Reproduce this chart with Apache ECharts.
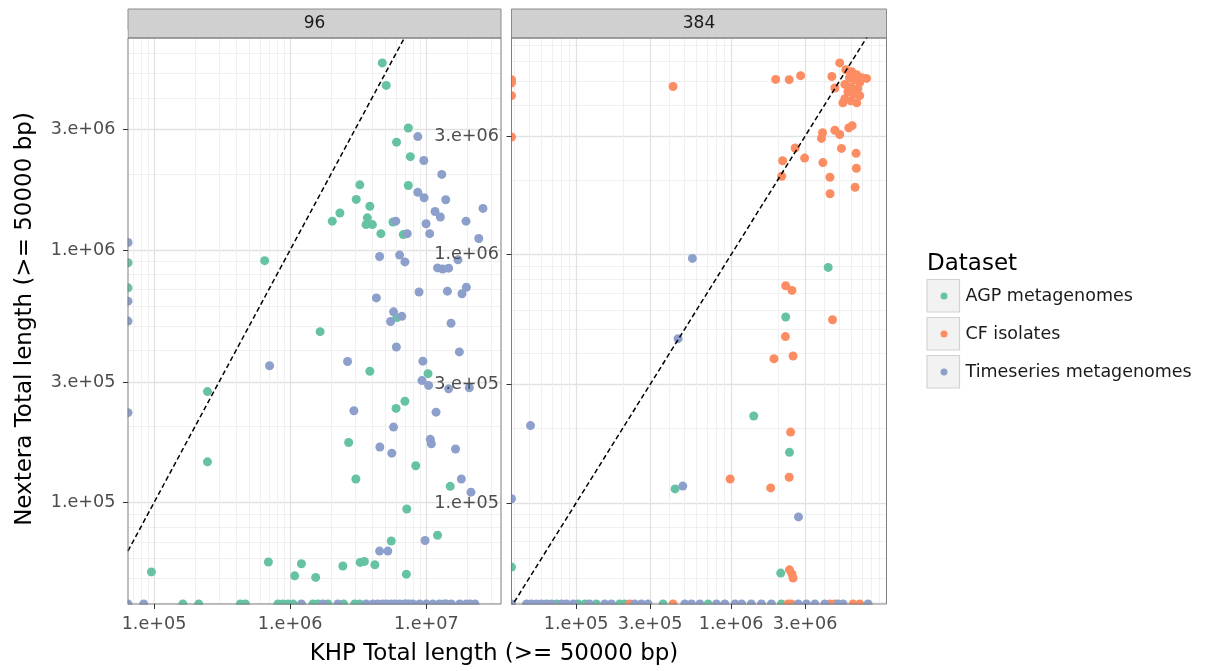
<!DOCTYPE html>
<html>
<head>
<meta charset="utf-8">
<title>KHP vs Nextera total length</title>
<script src="https://cdn.jsdelivr.net/npm/echarts@6.0.0/dist/echarts.min.js"></script>
<style>
  html, body { margin: 0; padding: 0; background: #fff; }
  #chart { width: 1217px; height: 671px; }
</style>
</head>
<body>
<div id="chart"></div>
<script>
// facet labels and legend entries
const facets = ['96', '384']
const datasetNames = ['AGP metagenomes', 'CF isolates', 'Timeseries metagenomes']
const datasetColors = ['#66c2a5', '#fc8d62', '#8da0cb']

// axis limits (log scale) and tick labels
const p96XLim = [64400, 3.54e7]
const p96YLim = [39700, 6.9e6]
const p384XLim = [38300, 1.006e7]
const p384YLim = [39200, 7.46e6]
const p96XTicks = [1e5, 1e6, 1e7]
const p96XLabels = ['1.e+05', '1.e+06', '1.e+07']
const yTicks = [1e5, 3e5, 1e6, 3e6]
const yLabels = ['1.e+05', '3.e+05', '1.e+06', '3.e+06']
const p384XTicks = [1e5, 3e5, 1e6, 3e6]
const p384XLabels = ['1.e+05', '3.e+05', '1.e+06', '3.e+06']

// 0 = no contigs >= 50000 bp (sits on the panel edge, like -Inf on a log scale)
// panel 96
const p96AgpX = [4.75e6, 5.08e6, 7.38e6, 6.05e6, 7.64e6, 3.25e6, 7.38e6, 3.06e6, 3.85e6, 2.32e6,
  2.04e6, 3.69e6, 3.61e6, 4.02e6, 5.69e6, 4.64e6, 6.78e6, 6.5e5, 0, 0,
  6.08e6, 1.66e6, 3.85e6, 1.03e7, 2.47e5, 6.97e6, 6.0e6, 2.69e6, 2.47e5, 8.37e6,
  3.04e6, 1.5e7, 7.19e6, 1.21e7, 5.53e6, 6.92e5, 1.21e6, 2.44e6, 3.27e6, 3.51e6,
  4.19e6, 9.57e4, 1.08e6, 1.54e6, 7.14e6,
  1.63e5, 2.13e5, 4.31e5, 4.69e5, 8.13e5, 8.85e5, 9.64e5, 1.05e6, 1.47e6, 1.6e6,
  1.9e6, 2.47e6, 2.98e6, 3.24e6, 7.13e6, 1.36e7]
const p96AgpY = [5.5e6, 4.48e6, 3.04e6, 2.67e6, 2.34e6, 1.81e6, 1.8e6, 1.585e6, 1.49e6, 1.4e6,
  1.3e6, 1.34e6, 1.26e6, 1.26e6, 1.29e6, 1.16e6, 1.15e6, 9.07e5, 8.9e5, 7.08e5,
  5.4e5, 4.75e5, 3.31e5, 3.24e5, 2.75e5, 2.52e5, 2.36e5, 1.73e5, 1.45e5, 1.4e5,
  1.24e5, 1.16e5, 9.44e4, 7.43e4, 7.05e4, 5.82e4, 5.73e4, 5.61e4, 5.8e4, 5.85e4,
  5.68e4, 5.32e4, 5.13e4, 5.06e4, 5.21e4,
  0, 0, 0, 0, 0, 0, 0, 0, 0, 0,
  0, 0, 0, 0, 0, 0]
const p96TsX = [8.67e6, 9.59e6, 1.3e7, 8.67e6, 9.64e6, 1.39e7, 2.61e7, 1.16e7, 1.27e7, 5.97e6,
  1.96e7, 9.97e6, 1.06e7, 7.25e6, 2.43e7, 0, 4.54e6, 6.37e6, 6.97e6, 1.71e7,
  1.21e7, 1.32e7, 1.46e7, 4.3e6, 8.85e6, 1.43e7, 1.83e7, 1.97e7, 0, 5.75e6,
  6.61e6, 5.47e6, 0, 1.52e7, 6.03e6, 1.75e7, 2.64e6, 9.44e6, 7.06e5, 9.29e6,
  1.04e7, 1.46e7, 2.07e7, 0, 2.94e6, 1.18e7, 5.75e6, 1.07e7, 1.09e7, 4.56e6,
  5.58e6, 1.64e7, 1.81e7, 2.13e7, 9.8e6, 4.54e6, 5.22e6,
  0, 8.4e4, 1.21e6, 1.74e6, 2.24e6, 3.62e6, 4.05e6, 4.4e6, 4.8e6, 5.1e6,
  5.53e6, 5.9e6, 6.37e6, 6.9e6, 7.5e6, 7.97e6, 8.93e6, 1.0e7, 1.12e7, 1.25e7,
  1.4e7, 1.53e7, 1.76e7, 1.97e7, 2.1e7, 2.28e7]
const p96TsY = [2.81e6, 2.26e6, 1.99e6, 1.69e6, 1.61e6, 1.58e6, 1.46e6, 1.42e6, 1.35e6, 1.3e6,
  1.3e6, 1.27e6, 1.16e6, 1.16e6, 1.11e6, 1.07e6, 9.42e5, 9.54e5, 8.97e5, 9.14e5,
  8.49e5, 8.4e5, 8.47e5, 6.46e5, 6.82e5, 6.87e5, 6.71e5, 7.12e5, 6.27e5, 5.69e5,
  5.46e5, 5.21e5, 5.23e5, 5.13e5, 4.13e5, 3.95e5, 3.62e5, 3.63e5, 3.48e5, 3.04e5,
  2.91e5, 2.82e5, 2.85e5, 2.27e5, 2.31e5, 2.28e5, 1.99e5, 1.78e5, 1.71e5, 1.66e5,
  1.57e5, 1.63e5, 1.24e5, 1.1e5, 7.08e4, 6.43e4, 6.43e4,
  0, 0, 0, 0, 0, 0, 0, 0, 0, 0,
  0, 0, 0, 0, 0, 0, 0, 0, 0, 0,
  0, 0, 0, 0, 0, 0]

// panel 384
const p384AgpX = [4.23e6, 2.25e6, 1.4e6, 2.38e6, 4.35e5, 0, 2.09e6,
  7.48e4, 1.03e5, 1.14e5, 1.35e5, 1.91e5, 2.06e5, 3.64e5, 7.11e5, 2.11e6]
const p384AgpY = [8.89e5, 5.61e5, 2.24e5, 1.6e5, 1.14e5, 5.52e4, 5.22e4,
  0, 0, 0, 0, 0, 0, 0, 0, 0]
const p384CfX = [0, 0, 0, 0, 4.22e5, 1.94e6, 2.37e6, 2.81e6, 5.02e6, 4.47e6,
  7.48e6, 4.67e6, 5.5e6, 6.0e6, 6.47e6, 5.8e6, 6.3e6, 6.76e6, 5.42e6, 5.92e6,
  6.56e6, 5.67e6, 6.19e6, 6.76e6, 5.42e6, 5.92e6, 6.47e6, 5.26e6, 6.96e6, 4.67e6,
  5.02e6, 3.89e6, 3.83e6, 5.74e6, 6.04e6, 2.59e6, 5.15e6, 6.4e6, 2.15e6, 2.98e6,
  3.91e6, 2.12e6, 4.34e6, 6.43e6, 4.35e6, 6.31e6, 2.25e6, 2.47e6, 4.51e6, 2.24e6,
  1.89e6, 2.51e6, 2.42e6, 2.37e6, 9.86e5, 1.8e6, 2.38e6, 2.47e6, 2.51e6,
  2.22e5, 4.22e5, 2.33e6, 2.45e6, 4.34e6, 4.67e6, 6.12e6, 6.76e6]
const p384CfY = [5.07e6, 4.92e6, 4.37e6, 2.98e6, 4.76e6, 5.08e6, 5.07e6, 5.26e6, 5.92e6, 5.22e6,
  5.13e6, 4.69e6, 5.56e6, 5.46e6, 5.31e6, 5.16e6, 5.07e6, 4.94e6, 4.85e6, 4.75e6,
  4.66e6, 4.53e6, 4.45e6, 4.37e6, 4.25e6, 4.17e6, 4.09e6, 4.09e6, 5.16e6, 3.17e6,
  3.05e6, 3.1e6, 2.94e6, 3.24e6, 3.31e6, 2.69e6, 2.68e6, 2.56e6, 2.39e6, 2.45e6,
  2.35e6, 2.07e6, 2.05e6, 2.23e6, 1.76e6, 1.87e6, 7.5e5, 7.18e5, 5.47e5, 4.68e5,
  3.81e5, 3.91e5, 1.93e5, 1.27e5, 1.25e5, 1.15e5, 5.38e4, 5.18e4, 4.99e4,
  0, 0, 0, 0, 0, 0, 0, 0]
const p384TsX = [5.63e5, 4.55e5, 5.08e4, 4.88e5, 0, 2.72e6, 0,
  4.79e4, 5.16e4, 5.55e4, 5.98e4, 6.44e4, 6.94e4, 8.05e4, 8.67e4, 9.57e4, 1.22e5,
  1.53e5, 1.69e5, 2.39e5, 2.64e5, 2.91e5, 5.03e5, 5.55e5, 6.29e5, 8.05e5, 9.11e5,
  1.06e6, 1.17e6, 1.35e6, 1.57e6, 1.82e6, 2.71e6, 3.06e6, 3.47e6, 4.02e6, 4.9e6,
  5.28e6, 7.65e6]
const p384TsY = [9.66e5, 4.59e5, 2.05e5, 1.17e5, 1.04e5, 8.79e4, 0,
  0, 0, 0, 0, 0, 0, 0, 0, 0, 0,
  0, 0, 0, 0, 0, 0, 0, 0, 0, 0,
  0, 0, 0, 0, 0, 0, 0, 0, 0, 0,
  0, 0]

// y = x reference
const identityLine = [1e4, 1e8]

const FONT = 'DejaVu Sans'

// values of 0 go to the panel edge
const toPoints = (xs, ys, xLim, yLim) =>
  xs.map((x, i) => [x > 0 ? x : xLim[0], ys[i] > 0 ? ys[i] : yLim[0]])

// 2..9 x 10^k lines inside the limits that are not major breaks
const minorBreaks = (lim, majors) => {
  let out = []
  for (let e = 4; e <= 7; e++) {
    for (let m = 1; m <= 9; m++) {
      const v = m * Math.pow(10, e)
      if (v > lim[0] && v < lim[1] && !majors.some(t => Math.abs(t - v) / v < 1e-9)) out.push(v)
    }
  }
  return out
}

const labelFor = (ticks, labels) => (v) => {
  const i = ticks.findIndex(t => Math.abs(Math.log10(t) - Math.log10(v)) < 1e-6)
  return i >= 0 ? labels[i] : ''
}

// three axes per side: minor grid, major grid, ticks + labels
const makeAxes = (dim, gi, lim, ticks, labels) => {
  const base = {
    type: 'log', logBase: 10, gridIndex: gi, min: lim[0], max: lim[1],
    position: dim === 'x' ? 'bottom' : 'left',
    axisLine: { show: false, onZero: false },
  }
  return [
    {
      ...base, z: 0,
      axisLabel: { show: false },
      axisTick: { show: false, customValues: minorBreaks(lim, ticks) },
      splitLine: { show: true, lineStyle: { color: '#eeeeee', width: 0.9 } },
    },
    {
      ...base, z: 0,
      axisLabel: { show: false },
      axisTick: { show: false, customValues: ticks },
      splitLine: { show: true, lineStyle: { color: '#e2e2e2', width: 1.3 } },
    },
    {
      ...base, z: 6,
      splitLine: { show: false },
      axisTick: { show: true, length: 5, customValues: ticks, lineStyle: { color: '#333333', width: 1 } },
      axisLabel: {
        show: true, customValues: ticks, formatter: labelFor(ticks, labels),
        margin: dim === 'x' ? 11 : 12.5,
        fontFamily: FONT, fontSize: 17.6, color: '#4d4d4d',
      },
    },
  ]
}

const xAxes = [
  ...makeAxes('x', 0, p96XLim, p96XTicks, p96XLabels),
  ...makeAxes('x', 1, p384XLim, p384XTicks, p384XLabels),
]
const yAxes = [
  ...makeAxes('y', 0, p96YLim, yTicks, yLabels),
  ...makeAxes('y', 1, p384YLim, yTicks, yLabels),
]

const scatter = (gi, k, pts) => ({
  name: datasetNames[k], type: 'scatter',
  xAxisIndex: 3 * gi + 2, yAxisIndex: 3 * gi + 2,
  data: pts, symbol: 'circle', symbolSize: 9, clip: false, z: 2, silent: true,
  itemStyle: { color: datasetColors[k], opacity: 1 },
})
const refLine = (gi) => ({
  name: 'y = x', type: 'line',
  xAxisIndex: 3 * gi + 2, yAxisIndex: 3 * gi + 2,
  data: [[identityLine[0], identityLine[0]], [identityLine[1], identityLine[1]]],
  symbol: 'none', clip: true, z: 3, silent: true,
  lineStyle: { color: '#000', width: 1.5, type: [5, 3] },
})

const series = [
  scatter(0, 0, toPoints(p96AgpX, p96AgpY, p96XLim, p96YLim)),
  scatter(0, 2, toPoints(p96TsX, p96TsY, p96XLim, p96YLim)),
  refLine(0),
  scatter(1, 0, toPoints(p384AgpX, p384AgpY, p384XLim, p384YLim)),
  scatter(1, 1, toPoints(p384CfX, p384CfY, p384XLim, p384YLim)),
  scatter(1, 2, toPoints(p384TsX, p384TsY, p384XLim, p384YLim)),
  refLine(1),
]

const panels = [
  { left: 128, width: 373 },
  { left: 511.5, width: 375 },
]
const strip = (p, text) => [
  { type: 'rect', z: 1, shape: { x: p.left, y: 9, width: p.width, height: 29 },
    style: { fill: '#d0d0d0', stroke: '#8c8c8c', lineWidth: 1 } },
  { type: 'text', z: 2, x: p.left + p.width / 2, y: 23.5,
    style: { text, fontFamily: FONT, fontSize: 17, fill: '#1a1a1a', align: 'center', verticalAlign: 'middle' } },
]
const keyBox = (i) => ({
  type: 'rect', z: 1, shape: { x: 927, y: 279.5 + 38 * i, width: 32.5, height: 32.5 },
  style: { fill: '#f2f2f2', stroke: '#d2d2d2', lineWidth: 1.2 },
})
const cover = (x, y, w, h) => ({
  type: 'rect', z: 3, silent: true, shape: { x, y, width: w, height: h }, style: { fill: '#ffffff' },
})

const option = {
  animation: false,
  backgroundColor: '#ffffff',
  grid: panels.map(p => ({
    left: p.left, top: 38, width: p.width, height: 566,
    containLabel: false, outerBoundsMode: 'none',
    show: true, z: 4, backgroundColor: 'transparent', borderColor: '#7f7f7f', borderWidth: 1,
  })),
  xAxis: xAxes,
  yAxis: yAxes,
  legend: {
    orient: 'vertical', left: 940.5, top: 286, padding: 0,
    itemGap: 18, itemWidth: 33, itemHeight: 7, icon: 'circle',
    data: datasetNames, selectedMode: false, z: 5,
    itemStyle: { borderWidth: 0 },
    textStyle: { fontFamily: FONT, fontSize: 17.5, color: '#1a1a1a', lineHeight: 20 },
  },
  graphic: [
    ...strip(panels[0], facets[0]),
    ...strip(panels[1], facets[1]),
    keyBox(0), keyBox(1), keyBox(2),
    cover(118, 604.7, 772, 8),
    cover(118, 30, 9.6, 580),
    cover(501.7, 38, 9.2, 572),
    { type: 'text', z: 2, x: 494, y: 654,
      style: { text: 'KHP Total length (>= 50000 bp)', fontFamily: FONT, fontSize: 23, fill: '#000',
        align: 'center', verticalAlign: 'middle' } },
    { type: 'text', z: 2, x: 25.5, y: 319, rotation: Math.PI / 2,
      style: { text: 'Nextera Total length (>= 50000 bp)', fontFamily: FONT, fontSize: 23, fill: '#000',
        align: 'center', verticalAlign: 'middle' } },
    { type: 'text', z: 2, x: 927, y: 264,
      style: { text: 'Dataset', fontFamily: FONT, fontSize: 23, fill: '#000',
        align: 'left', verticalAlign: 'middle' } },
  ],
  series,
}

const myChart = echarts.init(document.getElementById('chart'))
option && myChart.setOption(option)
</script>
</body>
</html>
